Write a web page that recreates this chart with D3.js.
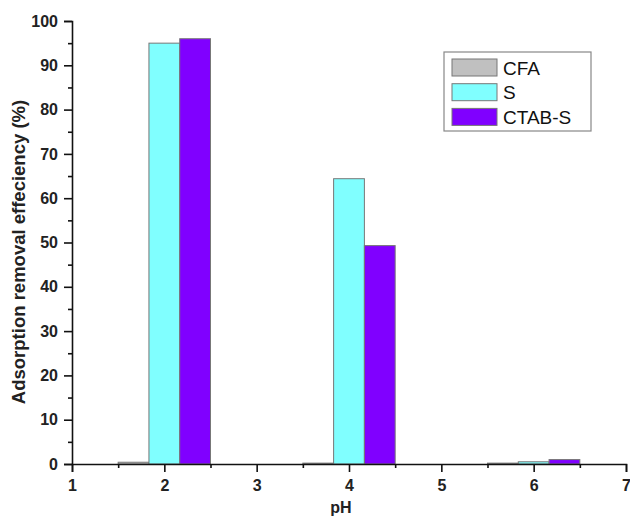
<!DOCTYPE html>
<html>
<head>
<meta charset="utf-8">
<script src="https://cdn.jsdelivr.net/npm/d3@7"></script>
<style>
  html, body { margin: 0; padding: 0; background: #fff; }
  svg { display: block; font-family: "Liberation Sans", Arial, sans-serif; }
</style>
</head>
<body>
<svg id="chart" width="630" height="519"></svg>
<script>
// Adsorption removal efficiency by pH for three adsorbents
const phValues = [2, 4, 6];
const seriesNames = ["CFA", "S", "CTAB-S"];
const cfaValues = [0.4, 0.2, 0.2];
const sValues = [95.0, 64.4, 0.5];
const ctabValues = [96.0, 49.3, 1.0];
const seriesColors = ["#c0c0c0", "#80ffff", "#8000ff"];
const xTicks = [1, 2, 3, 4, 5, 6, 7];
const yTicks = [0, 10, 20, 30, 40, 50, 60, 70, 80, 90, 100];

const seriesValues = [cfaValues, sValues, ctabValues];

const svg = d3.select("#chart");

const x = d3.scaleLinear().domain([1, 7]).range([72, 626]);
const y = d3.scaleLinear().domain([0, 100]).range([464, 21]);

const barWidth = 1 / 3; // in pH units, three bars span 1 unit
const rows = [];
phValues.forEach((ph, i) => {
  seriesNames.forEach((name, j) => {
    rows.push({ ph, name, j, v: seriesValues[j][i] });
  });
});

// Bars
svg.append("g").selectAll("rect")
  .data(rows)
  .join("rect")
  .attr("x", d => x(d.ph - 0.5 + d.j * barWidth))
  .attr("width", d => x(d.ph - 0.5 + (d.j + 1) * barWidth) - x(d.ph - 0.5 + d.j * barWidth))
  .attr("y", d => y(d.v))
  .attr("height", d => y(0) - y(d.v))
  .attr("fill", (d) => seriesColors[d.j])
  .attr("stroke", "#777")
  .attr("stroke-width", 1);

// X axis with minor ticks
const xAxisG = svg.append("g").attr("transform", `translate(0,${y(0)})`);
xAxisG.call(d3.axisBottom(x).tickValues(xTicks).tickFormat(d3.format("d")).tickSize(8).tickPadding(8));
xAxisG.append("g").call(d3.axisBottom(x).tickValues(d3.range(1.5, 7, 1)).tickFormat("").tickSize(4))
  .select(".domain").remove();
xAxisG.selectAll("text").attr("font-size", 16).attr("font-weight", "bold").attr("fill", "#222");
xAxisG.selectAll("line, path").attr("stroke", "#111").attr("stroke-width", 1.6);

// Y axis with minor ticks
const yAxisG = svg.append("g").attr("transform", `translate(${x(1)},0)`);
yAxisG.call(d3.axisLeft(y).tickValues(yTicks).tickSize(8).tickPadding(6));
yAxisG.append("g").call(d3.axisLeft(y).tickValues(d3.range(5, 100, 10)).tickFormat("").tickSize(4))
  .select(".domain").remove();
yAxisG.selectAll("text").attr("font-size", 16).attr("font-weight", "bold").attr("fill", "#222");
yAxisG.selectAll("line, path").attr("stroke", "#111").attr("stroke-width", 1.6);

// Axis titles
svg.append("text")
  .attr("x", 341).attr("y", 513)
  .attr("text-anchor", "middle")
  .attr("font-size", 16).attr("font-weight", "bold").attr("fill", "#222")
  .text("pH");

svg.append("text")
  .attr("transform", "translate(25,252) rotate(-90)")
  .attr("text-anchor", "middle")
  .attr("font-size", 18.5).attr("font-weight", "bold").attr("fill", "#222")
  .text("Adsorption removal effeciency (%)");

// Legend
const legend = svg.append("g").attr("transform", "translate(444,52)");
legend.append("rect")
  .attr("width", 147).attr("height", 79)
  .attr("fill", "#fff").attr("stroke", "#888").attr("stroke-width", 1.2);
seriesNames.forEach((name, j) => {
  const g = legend.append("g").attr("transform", `translate(8,${7 + j * 24.7})`);
  g.append("rect")
    .attr("width", 45).attr("height", 17)
    .attr("fill", seriesColors[j]).attr("stroke", "#777");
  g.append("text")
    .attr("x", 51).attr("y", 15.5)
    .attr("font-size", 19).attr("fill", "#111")
    .text(name);
});
</script>
</body>
</html>
